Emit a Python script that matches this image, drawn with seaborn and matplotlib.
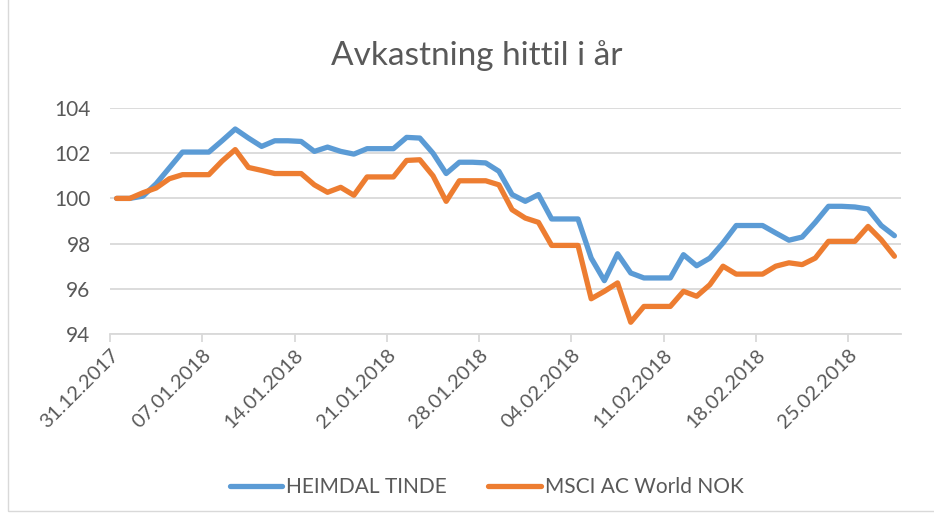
import pandas as pd
import numpy as np
import matplotlib.pyplot as plt
from matplotlib.lines import Line2D
from matplotlib.patches import Rectangle
import seaborn as sns

# Data (daily index values, weekends carried forward)
dates = pd.date_range('2017-12-31', '2018-02-28', freq='D')
series_names = ['HEIMDAL TINDE', 'MSCI AC World NOK']
heimdal = [100.0, 100.0, 100.1, 100.65, 101.35, 102.05, 102.05, 102.05, 102.55, 103.07,
           102.67, 102.3, 102.55, 102.55, 102.52, 102.08, 102.27, 102.08, 101.96, 102.2,
           102.2, 102.2, 102.7, 102.67, 102.0, 101.1, 101.6, 101.6, 101.57, 101.2,
           100.17, 99.87, 100.17, 99.09, 99.09, 99.09, 97.36, 96.36, 97.55, 96.7,
           96.48, 96.48, 96.48, 97.51, 97.02, 97.36, 98.03, 98.8, 98.8, 98.8,
           98.47, 98.15, 98.29, 98.94, 99.65, 99.65, 99.62, 99.53, 98.8, 98.35]
msci = [100.0, 100.0, 100.25, 100.46, 100.87, 101.05, 101.05, 101.05, 101.65, 102.16,
        101.37, 101.24, 101.1, 101.1, 101.1, 100.6, 100.27, 100.49, 100.14, 100.95,
        100.95, 100.95, 101.68, 101.71, 101.0, 99.87, 100.78, 100.78, 100.78, 100.6,
        99.5, 99.13, 98.94, 97.92, 97.92, 97.92, 95.56, 95.89, 96.26, 94.52,
        95.22, 95.22, 95.22, 95.89, 95.67, 96.18, 97.0, 96.65, 96.65, 96.65,
        97.0, 97.15, 97.07, 97.36, 98.1, 98.1, 98.1, 98.76, 98.17, 97.44]
tick_dates = pd.date_range('2017-12-31', '2018-02-25', freq='7D')
y_ticks = [94, 96, 98, 100, 102, 104]
colors = ['#5B9BD5', '#ED7D31']
text_color = '#595959'
grid_color = '#D9D9D9'

sns.set_theme(style='white')
plt.rcParams['font.family'] = ['Lato', 'DejaVu Sans']

# Points sit in the middle of each day slot (Excel date axis)
df = pd.DataFrame({'Dato': dates + pd.Timedelta(hours=12),
                   series_names[0]: heimdal, series_names[1]: msci})
long_df = df.melt(id_vars='Dato', var_name='Serie', value_name='Verdi')

fig = plt.figure(figsize=(9.34, 5.17), dpi=100)
ax = fig.add_axes([110 / 934, 1 - 334 / 517, 791 / 934, 226 / 517])

sns.lineplot(data=long_df, x='Dato', y='Verdi', hue='Serie', hue_order=series_names,
             palette=colors, linewidth=3.8, legend=False, ax=ax,
             solid_joinstyle='round', solid_capstyle='round')

ax.set_xlim(pd.Timestamp('2017-12-31'), pd.Timestamp('2018-03-01'))
ax.set_ylim(94, 104)
ax.set_yticks(y_ticks)
ax.set_xticks(tick_dates)
ax.set_xticklabels([d.strftime('%d.%m.%Y') for d in tick_dates],
                   rotation=45, ha='right', rotation_mode='anchor')
ax.set_xlabel('')
ax.set_ylabel('')

ax.grid(axis='y', color=grid_color, linewidth=1.3)
ax.grid(axis='x', visible=False)
ax.set_axisbelow(True)
for side in ['top', 'right', 'left']:
    ax.spines[side].set_visible(False)
ax.spines['bottom'].set_color(grid_color)
ax.spines['bottom'].set_linewidth(1.3)

ax.tick_params(axis='x', direction='out', length=6, width=1.3, color=grid_color,
               labelsize=14.5, labelcolor=text_color, pad=3, bottom=True)
ax.tick_params(axis='y', length=0, labelsize=15, labelcolor=text_color, pad=14)

fig.text(0.51, 1 - 56 / 517, 'Avkastning hittil i år', ha='center', va='center',
         fontsize=24, color=text_color)

handles = [Line2D([], [], color=c, linewidth=3.8, solid_capstyle='round') for c in colors]
fig.legend(handles, series_names, loc='center', bbox_to_anchor=(0.521, 1 - 487 / 517),
           ncol=2, frameon=False, fontsize=15, handlelength=2.5, handletextpad=0.2,
           columnspacing=2.0, labelcolor=text_color)

# chart area border
fig.patches.append(Rectangle((8 / 934, 6 / 517), 1.0, 1.0, transform=fig.transFigure,
                             fill=False, edgecolor=grid_color, linewidth=1.0))

fig.savefig('out.png', dpi=100)
